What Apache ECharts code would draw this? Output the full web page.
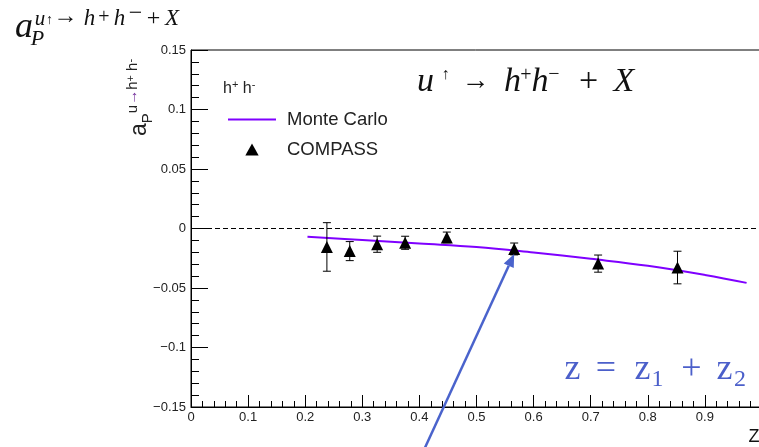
<!DOCTYPE html>
<html><head><meta charset="utf-8">
<script src="https://cdn.jsdelivr.net/npm/echarts@6/dist/echarts.min.js"></script>
<style>html,body{margin:0;padding:0;background:#fff}#c{width:759px;height:447px}</style>
</head><body><div id="c"></div>
<script>
// ---- data ----
const compassZ   = [0.238, 0.278, 0.326, 0.375, 0.448, 0.566, 0.713, 0.852];
const compassA   = [-0.0155, -0.0190, -0.0132, -0.0120, -0.0075, -0.0172, -0.0295, -0.0328];
const compassErr = [0.0204, 0.0080, 0.0068, 0.0055, 0.0045, 0.0050, 0.0072, 0.0137];
const mcZ = [0.204, 0.30, 0.40, 0.50, 0.60, 0.70, 0.80, 0.90, 0.973];
const mcA = [-0.0070, -0.0097, -0.0126, -0.0155, -0.0202, -0.0255, -0.0313, -0.0390, -0.0457];
const zeroLineZ = [0, 1];
const zeroLineA = [0, 0];

const compassData = compassZ.map((z, i) => [z, compassA[i]]);
const errData = compassZ.map((z, i) => [z, compassA[i] - compassErr[i], compassA[i] + compassErr[i]]);
const mcData = mcZ.map((z, i) => [z, mcA[i]]);
const zeroData = zeroLineZ.map((z, i) => [z, zeroLineA[i]]);

const chart = echarts.init(document.getElementById('c'));

const SERIF = '"Liberation Serif", "DejaVu Serif", serif';
const SANS = '"Liberation Sans", Arial, sans-serif';
function glyph(text, cx, base, size, italic, color, family) {
  const fam = family || SERIF;
  const m = fam === SANS ? 0.3465 : 0.3375;
  return {
    type: 'text', silent: true, z: 100,
    style: {
      text: text, x: cx, y: base - m * size,
      font: (italic ? 'italic ' : '') + size + 'px ' + fam,
      fill: color || '#111', align: 'center', verticalAlign: 'middle'
    }
  };
}

const blue = '#4b5fca';
const graphics = [
  // top-left big label  a_P^{u↑→h+h−+X}
  glyph('a', 24, 40, 36, true),
  glyph('P', 37.5, 47, 22, true),
  glyph('u', 40, 27, 21, true),
  glyph('↑', 49.5, 25, 14, false),
  glyph('→', 65.5, 25, 24, false),
  glyph('h', 89.5, 27, 23, true),
  glyph('+', 104, 24, 20, false),
  glyph('h', 119.5, 27, 23, true),
  glyph('−', 135.5, 22, 24, false),
  glyph('+', 153.5, 27, 24, false),
  glyph('X', 172, 27, 23, true),
  // title u↑ → h+h− + X
  glyph('u', 425.5, 94, 34, true),
  glyph('↑', 445.5, 80, 16, false),
  glyph('→', 475.5, 91, 28, false),
  glyph('h', 512.5, 94, 34, true),
  glyph('+', 526, 82, 20, false),
  glyph('h', 540, 94, 34, true),
  glyph('−', 554, 81, 20, false),
  glyph('+', 588.5, 94, 34, false),
  glyph('X', 624, 94, 34, true),
  // z = z1 + z2
  glyph('z', 572.5, 382, 36, false, blue),
  glyph('=', 606, 382, 36, false, blue),
  glyph('z', 642.5, 382, 36, false, blue),
  glyph('1', 657.5, 388, 24, false, blue),
  glyph('+', 691.5, 382, 36, false, blue),
  glyph('z', 724.5, 382, 36, false, blue),
  glyph('2', 740, 388, 24, false, blue),
  // axis title Z
  glyph('Z', 754, 443, 18, false, '#111', SANS),
  // legend header h+ h-
  {
    type: 'text', left: 223, top: 79, silent: true,
    style: {
      text: '{n|h}{s|+}{n| h}{s|-}',
      rich: {
        n: { font: '16px ' + SANS, fill: '#222', lineHeight: 18, verticalAlign: 'bottom' },
        s: { font: '11px ' + SANS, fill: '#222', lineHeight: 11, verticalAlign: 'top' }
      }
    }
  },
  // rotated y-axis title
  {
    type: 'text', x: 125, y: 136, rotation: Math.PI / 2, silent: true,
    style: {
      text: '{a|a}{p|P}{u|u}{ar|→}{u|h}{s|+}{u| h}{s|-}',
      rich: {
        a: { font: '23px ' + SANS, fill: '#222', lineHeight: 30, verticalAlign: 'middle' },
        p: { font: '15px ' + SANS, fill: '#222', lineHeight: 15, verticalAlign: 'bottom' },
        u: { font: '15px ' + SANS, fill: '#222', lineHeight: 15, verticalAlign: 'top' },
        ar: { font: '15px ' + SANS, fill: '#7a3aa0', lineHeight: 15, verticalAlign: 'top' },
        s: { font: '11px ' + SANS, fill: '#222', lineHeight: 11, verticalAlign: 'top' }
      }
    }
  }
];

const option = {
  animation: false,
  backgroundColor: '#fff',
  grid: { left: 191, top: 50, width: 571, height: 357, outerBoundsMode: 'none', containLabel: false,
    show: true, borderColor: '#000', borderWidth: 1, backgroundColor: 'transparent' },
  legend: {
    left: 228, top: 110, orient: 'vertical', itemWidth: 48, itemHeight: 12, itemGap: 11,
    padding: 0, selectedMode: false, symbolKeepAspect: true,
    textStyle: { fontFamily: SANS, fontSize: 18.5, color: '#222', lineHeight: 19, padding: [0, 0, 0, 6] },
    data: [
      { name: 'Monte Carlo', icon: 'path://M0,0H48V2H0Z' },
      { name: 'COMPASS', icon: 'path://M5,0L10,9L0,9Z' }
    ]
  },
  xAxis: {
    type: 'value', min: 0, max: 1, interval: 0.1,
    axisLine: { onZero: false, lineStyle: { color: '#000', width: 1 } },
    axisTick: { inside: true, length: 12, lineStyle: { color: '#000' } },
    minorTick: { show: true, splitNumber: 5, length: 6, lineStyle: { color: '#000' } },
    splitLine: { show: false },
    axisLabel: { color: '#222', fontFamily: SANS, fontSize: 13, margin: 4,
      formatter: v => (v >= 0.999 ? '' : String(+v.toFixed(2))) }
  },
  yAxis: {
    type: 'value', min: -0.15, max: 0.15, interval: 0.05,
    axisLine: { onZero: false, lineStyle: { color: '#000', width: 1 } },
    axisTick: { inside: true, length: 17, lineStyle: { color: '#000' } },
    minorTick: { show: true, splitNumber: 5, length: 8, lineStyle: { color: '#000' } },
    splitLine: { show: false },
    axisLabel: { color: '#222', fontFamily: SANS, fontSize: 13, margin: 5,
      formatter: v => String(+v.toFixed(3)).replace('-', '−') }
  },
  series: [
    {
      name: 'zero', type: 'line', data: zeroData, symbol: 'none', silent: true,
      lineStyle: { color: '#000', width: 1, type: [5, 3] }, z: 1
    },
    {
      name: 'Monte Carlo', type: 'line', data: mcData, smooth: 0.4, symbol: 'none',
      lineStyle: { color: '#7f00ff', width: 2 }, itemStyle: { color: '#7f00ff' }, z: 2
    },
    {
      name: 'errors', type: 'custom', data: errData, z: 3, silent: true,
      renderItem: function (params, api) {
        const x = api.value(0);
        const lo = api.coord([x, api.value(1)]);
        const hi = api.coord([x, api.value(2)]);
        const w = 4;
        const st = { stroke: '#000', lineWidth: 1 };
        return {
          type: 'group', children: [
            { type: 'line', shape: { x1: lo[0], y1: lo[1], x2: hi[0], y2: hi[1] }, style: st },
            { type: 'line', shape: { x1: lo[0] - w, y1: lo[1], x2: lo[0] + w, y2: lo[1] }, style: st },
            { type: 'line', shape: { x1: hi[0] - w, y1: hi[1], x2: hi[0] + w, y2: hi[1] }, style: st }
          ]
        };
      }
    },
    {
      name: 'COMPASS', type: 'scatter', data: compassData, symbol: 'triangle', symbolSize: 12,
      itemStyle: { color: '#000', opacity: 1 }, z: 4
    }
  ],
  graphic: graphics
};
chart.setOption(option);

// annotation arrow pointing at a COMPASS point
const tipPt = chart.convertToPixel({ gridIndex: 0 }, compassData[5]);
const tip = [tipPt[0], tipPt[1] + 5];
const start = [423, 452];
const dx = tip[0] - start[0], dy = tip[1] - start[1];
const len = Math.sqrt(dx * dx + dy * dy);
const ux = dx / len, uy = dy / len;
const hl = 13, hw = 5.5;
const bx = tip[0] - ux * hl, by = tip[1] - uy * hl;
chart.setOption({
  graphic: graphics.concat([
    { type: 'line', silent: true, z: 90, shape: { x1: start[0], y1: start[1], x2: bx, y2: by },
      style: { stroke: '#4a63cc', lineWidth: 2.5 } },
    { type: 'polygon', silent: true, z: 90,
      shape: { points: [tip, [bx - uy * hw, by + ux * hw], [bx + uy * hw, by - ux * hw]] },
      style: { fill: '#4a63cc' } }
  ])
});
</script>
</body></html>
